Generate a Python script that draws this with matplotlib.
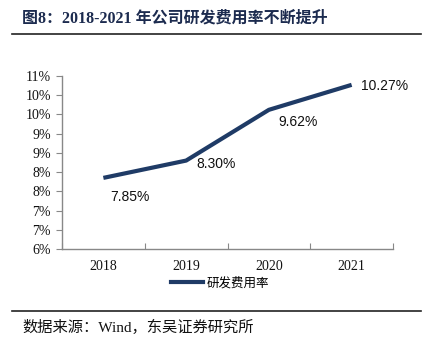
import math
import matplotlib
matplotlib.use("Agg")
import matplotlib.pyplot as plt
from matplotlib.lines import Line2D
from matplotlib.ticker import FuncFormatter, MultipleLocator, FixedLocator

plt.rcParams['font.family'] = ['Liberation Serif', 'Noto Sans CJK SC']

years = ['2018', '2019', '2020', '2021']
rd_ratio = [7.85, 8.30, 9.62, 10.27]   # R&D expense ratio, %
label_offsets = [(27, -19), (30, -3), (29, -12), (9, -1)]   # pixels
label_ha = ['center', 'center', 'center', 'left']

navy = '#1f3b66'
grey = '#888888'

fig = plt.figure(figsize=(4.34, 3.47), dpi=100)
W, H = 434, 347

ax = fig.add_axes([62 / W, 1 - 249 / H, (393 - 62) / W, (249 - 76) / H])

x = list(range(len(years)))
ax.plot(x, rd_ratio, color=navy, lw=3, solid_capstyle='butt', zorder=3)

for i, v in enumerate(rd_ratio):
    ax.annotate('%.2f%%' % v, (x[i], v), xytext=label_offsets[i],
                textcoords='offset pixels', ha=label_ha[i], va='center',
                fontsize=10, family='Liberation Sans', color='#111111')

ax.set_xlim(-0.5, 3.5)
ax.set_ylim(6, 10.5)

# y ticks every 0.5%, shown with no decimals (round half up)
ax.yaxis.set_major_locator(MultipleLocator(0.5))
ax.yaxis.set_major_formatter(FuncFormatter(lambda v, p: '%d%%' % math.floor(v + 0.5 + 1e-9)))
ax.tick_params(axis='y', direction='out', length=4, color=grey, labelsize=10,
               pad=4, labelcolor='#111111')

ax.xaxis.set_major_locator(FixedLocator([-0.5, 0.5, 1.5, 2.5, 3.5]))
ax.xaxis.set_major_formatter(FuncFormatter(lambda v, p: ''))
ax.xaxis.set_minor_locator(FixedLocator(x))
ax.set_xticklabels(years, minor=True)
ax.tick_params(axis='x', which='major', direction='in', length=4, color=grey)
ax.tick_params(axis='x', which='minor', length=0, labelsize=10, pad=8,
               labelcolor='#111111')

for s in ['top', 'right']:
    ax.spines[s].set_visible(False)
for s in ['left', 'bottom']:
    ax.spines[s].set_color(grey)
    ax.spines[s].set_linewidth(1)

handle = Line2D([], [], color=navy, lw=3)
fig.legend([handle], ['研发费用率'], loc='center', bbox_to_anchor=(220 / W, 1 - 283 / H),
           frameon=False, handlelength=2.6, handletextpad=0.3,
           prop={'family': 'Noto Sans CJK SC', 'size': 9})

# header and footer
fig.text(22 / W, 1 - 18 / H, '图8：2018-2021 年公司研发费用率不断提升',
         fontsize=11.5, fontweight='bold', color='#1c2b4f', va='center', ha='left',
         family=['Liberation Serif', 'Noto Sans CJK SC'])
fig.add_artist(Line2D([12 / W, 421 / W], [1 - 34 / H, 1 - 34 / H], color='#222222', lw=1.2))
fig.add_artist(Line2D([12 / W, 421 / W], [1 - 311 / H, 1 - 311 / H], color='#222222', lw=1.2))
fig.text(22 / W, 1 - 327 / H, '数据来源：Wind，东吴证券研究所',
         fontsize=11, color='#111111', va='center', ha='left',
         family=['Liberation Serif', 'Noto Sans CJK SC'])

fig.savefig('out.png', dpi=100)
